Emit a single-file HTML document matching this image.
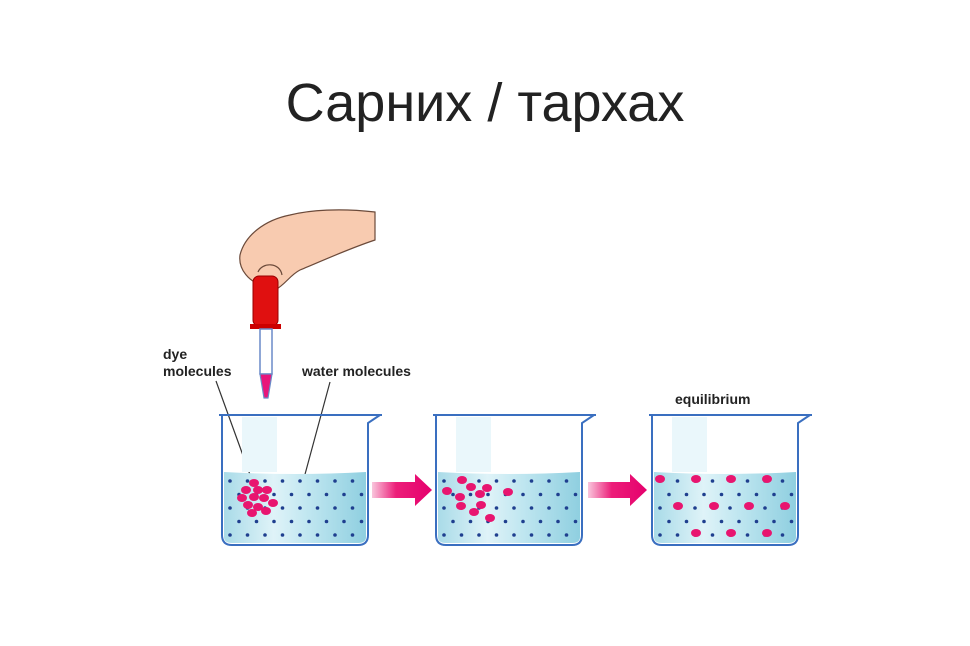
<!DOCTYPE html>
<html><head><meta charset="utf-8"><style>
body{margin:0;background:#fff;width:970px;height:646px;overflow:hidden;font-family:"Liberation Sans",sans-serif}
#title{position:absolute;left:0;width:970px;top:72px;text-align:center;font-size:54px;color:#222}
svg{position:absolute;left:0;top:0}
</style></head><body>
<div id="title">Сарних / тархах</div>
<svg id="s" width="970" height="646">
<defs>
<linearGradient id="liq" x1="0" x2="1"><stop offset="0" stop-color="#a9dbe8"/><stop offset="0.35" stop-color="#dff3f8"/><stop offset="0.6" stop-color="#bfe6f0"/><stop offset="1" stop-color="#8fcfe0"/></linearGradient>
<linearGradient id="arr" x1="0" x2="1"><stop offset="0" stop-color="#f9c6dc"/><stop offset="0.4" stop-color="#ec1e79"/><stop offset="1" stop-color="#e5006d"/></linearGradient>
</defs>
<g>
<path d="M375 212 C340 208 310 210 290 215 C265 220 245 235 240 255 C238 270 250 282 262 285 L275 290 C285 285 290 275 300 270 C320 262 345 250 375 240 Z" fill="#f8cbb0" stroke="#6b4a3a" stroke-width="1.2"/>
<path d="M258 272 C262 262 280 262 282 275" fill="none" stroke="#6b4a3a" stroke-width="1.2"/>
</g>
<g>
<rect x="253" y="276" width="25" height="50" rx="6" fill="#e01010" stroke="#900" stroke-width="1"/>
<rect x="250" y="324" width="31" height="5" fill="#c00"/>
<rect x="260" y="329" width="12" height="45" fill="#fff" stroke="#6a8ac8" stroke-width="1.5"/>
<path d="M260 374 L272 374 L268 398 L264 398 Z" fill="#e8157a" stroke="#6a8ac8" stroke-width="1.2"/>
</g>
<text x="163" y="359" font-size="14" font-weight="bold" fill="#222">dye</text>
<text x="163" y="376" font-size="14" font-weight="bold" fill="#222">molecules</text>
<text x="302" y="376" font-size="14" font-weight="bold" fill="#222">water molecules</text>
<text x="675" y="404" font-size="14" font-weight="bold" fill="#222">equilibrium</text>
<line x1="216" y1="381" x2="253" y2="483" stroke="#333" stroke-width="1.2"/>
<line x1="330" y1="382" x2="304" y2="478" stroke="#333" stroke-width="1.2"/>
<path d="M372 482 L415 482 L415 474 L432 490 L415 506 L415 498 L372 498 Z" fill="url(#arr)"/>
<path d="M588 482 L630 482 L630 474 L647 490 L630 506 L630 498 L588 498 Z" fill="url(#arr)"/>
<g id="beakers"></g>
</svg>
<script>
const beakerLefts=[222,436,652];
const dyeSets=[
 [[254,483],[246,490],[258,490],[267,490],[242,498],[254,497],[264,498],[273,503],[248,505],[258,507],[266,511],[252,513]],
 [[462,480],[447,491],[471,487],[487,488],[460,497],[480,494],[508,492],[461,506],[481,505],[474,512],[490,518]],
 [[660,479],[696,479],[731,479],[767,479],[678,506],[714,506],[749,506],[785,506],[696,533],[731,533],[767,533]]
];
const g=document.getElementById('beakers');
const NS='http://www.w3.org/2000/svg';
function mk(t,a){const e=document.createElementNS(NS,t);for(const k in a)e.setAttribute(k,a[k]);g.appendChild(e);return e;}
beakerLefts.forEach((L,i)=>{
 const R=L+146,T=415,B=545,W=472;
 const liq=mk('path',{d:`M${L+2} ${W} Q${L+73} ${W+4} ${R-2} ${W} L${R-2} ${B-8} Q${R-2} ${B-2} ${R-10} ${B-2} L${L+10} ${B-2} Q${L+2} ${B-2} ${L+2} ${B-8} Z`,fill:'url(#liq)'});
 
 
 mk('rect',{x:L+20,y:T+2,width:35,height:W-T-2,fill:'#eaf7fb'});
 const b=mk('path',{d:`M${L-3} ${T} L${L} ${T} L${L} ${B-10} Q${L} ${B} ${L+10} ${B} L${R-10} ${B} Q${R} ${B} ${R} ${B-10} L${R} ${T+8} L${R+12} ${T}`,fill:'none',stroke:'#3a6fc0','stroke-width':2});
 
 
 mk('line',{x1:L-3,y1:T,x2:R-30,y2:T,stroke:'#3a6fc0','stroke-width':2});
 mk('line',{x1:R-30,y1:T,x2:R+14,y2:T,stroke:'#3a6fc0','stroke-width':2});
 for(let r=0;r<5;r++){const y=481+r*13.5;const off=r%2?9:0;
  for(let x=L+8+off;x<R-4;x+=17.5){const d=mk('circle',{cx:x,cy:y,r:1.8,fill:'#1f3f8f'});}}
 dyeSets[i].forEach(p=>{const d=mk('ellipse',{cx:p[0],cy:p[1],rx:5,ry:4,fill:'#e8156f'});
  
  });
});
</script>
</body></html>
